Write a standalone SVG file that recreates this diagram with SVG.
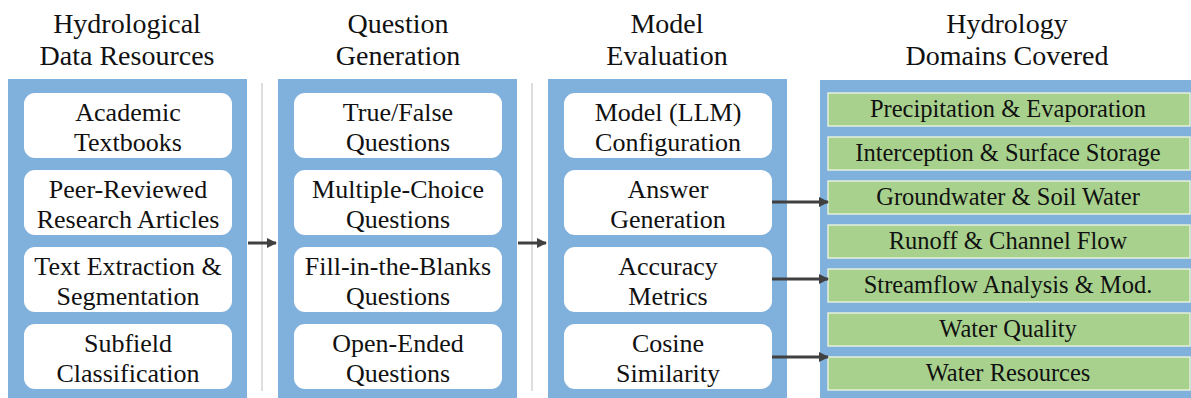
<svg xmlns="http://www.w3.org/2000/svg" width="1191" height="398" viewBox="0 0 1191 398">
<defs>
<marker id="ah" viewBox="0 0 10 10" refX="9" refY="5" markerWidth="3.4" markerHeight="3.4" orient="auto" markerUnits="strokeWidth">
<path d="M0,0 L10,5 L0,10 z" fill="#404040"/>
</marker>
</defs>
<rect width="1191" height="398" fill="#ffffff"/>

<g id="titles" fill="#111">
<text font-family="Liberation Serif" font-size="28" text-anchor="middle" x="127" y="33">Hydrological</text>
<text font-family="Liberation Serif" font-size="28" text-anchor="middle" x="127" y="65">Data Resources</text>
<text font-family="Liberation Serif" font-size="28" text-anchor="middle" x="398" y="33">Question</text>
<text font-family="Liberation Serif" font-size="28" text-anchor="middle" x="398" y="65">Generation</text>
<text font-family="Liberation Serif" font-size="28" text-anchor="middle" x="667" y="33">Model</text>
<text font-family="Liberation Serif" font-size="28" text-anchor="middle" x="667" y="65">Evaluation</text>
<text font-family="Liberation Serif" font-size="28" text-anchor="middle" x="1007" y="33">Hydrology</text>
<text font-family="Liberation Serif" font-size="28" text-anchor="middle" x="1007" y="65">Domains Covered</text>
</g>

<g id="separators" stroke="#dedede" stroke-width="2">
<line x1="262" y1="83" x2="262" y2="391"/>
<line x1="532" y1="83" x2="532" y2="391"/>
</g>

<g id="panel-data" fill="#111">
<rect fill="#80b1dc" x="8" y="79" width="239" height="320"/>
<g id="n-academic"><rect fill="#fff" x="24" y="93" width="208" height="65" rx="11"/>
<text font-family="Liberation Serif" font-size="26" text-anchor="middle" x="128" y="121">Academic</text><text font-family="Liberation Serif" font-size="26" text-anchor="middle" x="128" y="151">Textbooks</text></g>
<g id="n-peer"><rect fill="#fff" x="24" y="170" width="208" height="65" rx="11"/>
<text font-family="Liberation Serif" font-size="26" text-anchor="middle" x="128" y="198">Peer-Reviewed</text><text font-family="Liberation Serif" font-size="26" text-anchor="middle" x="128" y="228">Research Articles</text></g>
<g id="n-text"><rect fill="#fff" x="24" y="247" width="208" height="65" rx="11"/>
<text font-family="Liberation Serif" font-size="26" text-anchor="middle" x="128" y="275">Text Extraction &amp;</text><text font-family="Liberation Serif" font-size="26" text-anchor="middle" x="128" y="305">Segmentation</text></g>
<g id="n-subfield"><rect fill="#fff" x="24" y="324" width="208" height="65" rx="11"/>
<text font-family="Liberation Serif" font-size="26" text-anchor="middle" x="128" y="352">Subfield</text><text font-family="Liberation Serif" font-size="26" text-anchor="middle" x="128" y="382">Classification</text></g>
</g>

<g id="panel-question" fill="#111">
<rect fill="#80b1dc" x="278" y="79" width="239" height="320"/>
<g id="n-tf"><rect fill="#fff" x="294" y="93" width="208" height="65" rx="11"/>
<text font-family="Liberation Serif" font-size="26" text-anchor="middle" x="398" y="121">True/False</text><text font-family="Liberation Serif" font-size="26" text-anchor="middle" x="398" y="151">Questions</text></g>
<g id="n-mc"><rect fill="#fff" x="294" y="170" width="208" height="65" rx="11"/>
<text font-family="Liberation Serif" font-size="26" text-anchor="middle" x="398" y="198">Multiple-Choice</text><text font-family="Liberation Serif" font-size="26" text-anchor="middle" x="398" y="228">Questions</text></g>
<g id="n-fib"><rect fill="#fff" x="294" y="247" width="208" height="65" rx="11"/>
<text font-family="Liberation Serif" font-size="26" text-anchor="middle" x="398" y="275">Fill-in-the-Blanks</text><text font-family="Liberation Serif" font-size="26" text-anchor="middle" x="398" y="305">Questions</text></g>
<g id="n-oe"><rect fill="#fff" x="294" y="324" width="208" height="65" rx="11"/>
<text font-family="Liberation Serif" font-size="26" text-anchor="middle" x="398" y="352">Open-Ended</text><text font-family="Liberation Serif" font-size="26" text-anchor="middle" x="398" y="382">Questions</text></g>
</g>

<g id="panel-eval" fill="#111">
<rect fill="#80b1dc" x="548" y="79" width="239" height="320"/>
<g id="n-config"><rect fill="#fff" x="564" y="93" width="208" height="65" rx="11"/>
<text font-family="Liberation Serif" font-size="26" text-anchor="middle" x="668" y="121">Model (LLM)</text><text font-family="Liberation Serif" font-size="26" text-anchor="middle" x="668" y="151">Configuration</text></g>
<g id="n-answer"><rect fill="#fff" x="564" y="170" width="208" height="65" rx="11"/>
<text font-family="Liberation Serif" font-size="26" text-anchor="middle" x="668" y="198">Answer</text><text font-family="Liberation Serif" font-size="26" text-anchor="middle" x="668" y="228">Generation</text></g>
<g id="n-accuracy"><rect fill="#fff" x="564" y="247" width="208" height="65" rx="11"/>
<text font-family="Liberation Serif" font-size="26" text-anchor="middle" x="668" y="275">Accuracy</text><text font-family="Liberation Serif" font-size="26" text-anchor="middle" x="668" y="305">Metrics</text></g>
<g id="n-cosine"><rect fill="#fff" x="564" y="324" width="208" height="65" rx="11"/>
<text font-family="Liberation Serif" font-size="26" text-anchor="middle" x="668" y="352">Cosine</text><text font-family="Liberation Serif" font-size="26" text-anchor="middle" x="668" y="382">Similarity</text></g>
</g>

<g id="panel-domains" fill="#111">
<rect fill="#80b1dc" x="820" y="80" width="380" height="320"/>
<g fill="#a9d18e" stroke="#e4f0da" stroke-width="1.5">
<rect x="828" y="93" width="362" height="33"/>
<rect x="828" y="137" width="362" height="33"/>
<rect x="828" y="181" width="362" height="33"/>
<rect x="828" y="225" width="362" height="33"/>
<rect x="828" y="269" width="362" height="33"/>
<rect x="828" y="313" width="362" height="33"/>
<rect x="828" y="357" width="362" height="33"/>
</g>
<text id="d1" font-family="Liberation Serif" font-size="24.5" text-anchor="middle" x="1008" y="117">Precipitation &amp; Evaporation</text>
<text id="d2" font-family="Liberation Serif" font-size="24.5" text-anchor="middle" x="1008" y="161">Interception &amp; Surface Storage</text>
<text id="d3" font-family="Liberation Serif" font-size="24.5" text-anchor="middle" x="1008" y="205">Groundwater &amp; Soil Water</text>
<text id="d4" font-family="Liberation Serif" font-size="24.5" text-anchor="middle" x="1008" y="249">Runoff &amp; Channel Flow</text>
<text id="d5" font-family="Liberation Serif" font-size="24.5" text-anchor="middle" x="1008" y="293">Streamflow Analysis &amp; Mod.</text>
<text id="d6" font-family="Liberation Serif" font-size="24.5" text-anchor="middle" x="1008" y="337">Water Quality</text>
<text id="d7" font-family="Liberation Serif" font-size="24.5" text-anchor="middle" x="1008" y="381">Water Resources</text>
</g>

<g id="connectors" stroke="#404040" stroke-width="3" fill="none" marker-end="url(#ah)">
<line x1="248" y1="243" x2="276" y2="243"/>
<line x1="518" y1="243" x2="546" y2="243"/>
<line x1="772" y1="202" x2="828" y2="202"/>
<line x1="772" y1="279" x2="828" y2="279"/>
<line x1="772" y1="357" x2="828" y2="357"/>
</g>
</svg>
